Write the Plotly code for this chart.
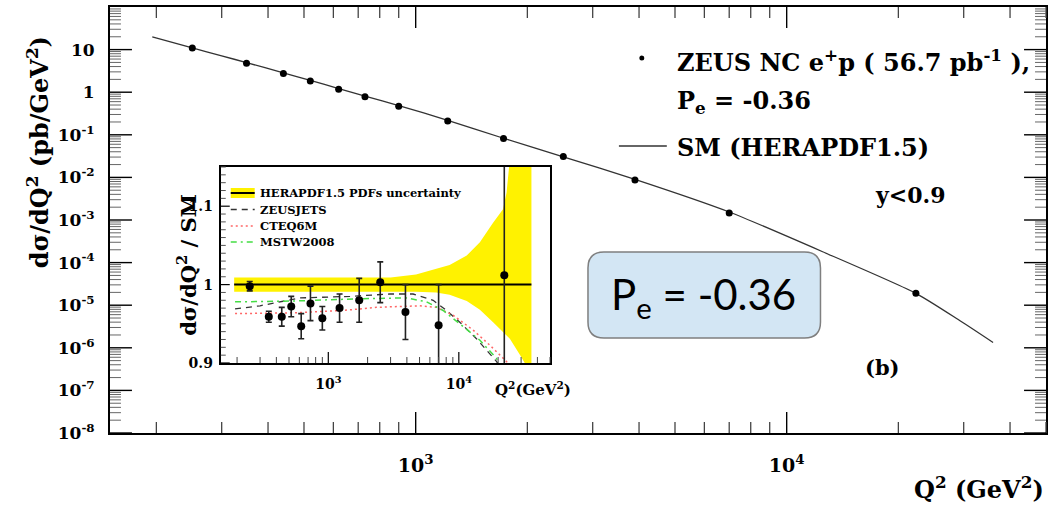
import numpy as np
import plotly.graph_objects as go

# ---------------- data ----------------
q2_data = [250, 350, 440, 520, 620, 730, 900, 1220, 1725, 2500, 3900, 7000, 22300]
xsec_data = [10.96, 4.77, 2.73, 1.84, 1.17, 0.787, 0.465, 0.212, 0.0824, 0.0311, 0.00867, 0.00146, 1.92e-5]

q2_sm = [195, 250, 300, 350, 440, 520, 620, 730, 900, 1220, 1725, 2500, 3900, 7000, 12500, 22300, 29000, 36000]
xsec_sm = [19.9, 11.0, 7.14, 4.95, 2.85, 1.89, 1.22, 0.806, 0.486, 0.219, 0.083, 0.0305, 0.00898, 0.00154,
           1.8e-4, 1.9e-5, 4.6e-6, 1.33e-6]

ratio_data = [0.998, 0.959, 0.959, 0.972, 0.947, 0.976, 0.957, 0.970, 0.980, 1.003, 0.965, 0.948, 1.012]
ratio_err = [0.006, 0.007, 0.012, 0.013, 0.016, 0.022, 0.015, 0.018, 0.028, 0.026, 0.035, 0.052, 0.20]

band_q2 = [190, 1000, 3000, 4700, 6700, 8500, 11500, 14500, 18300, 21800, 23200, 24600, 30000, 36000]
band_hi = [1.009, 1.009, 1.009, 1.013, 1.020, 1.025, 1.037, 1.054, 1.079, 1.096, 1.117, 1.16, 1.25, 1.35]
band_lo = [0.991, 0.991, 0.991, 0.991, 0.990, 0.987, 0.979, 0.968, 0.952, 0.940, 0.936, 0.931, 0.908, 0.885]

zeusjets_q2 = [193, 300, 607, 1464, 2963, 4467, 6356, 8050, 10170, 13650, 19420, 21830]
zeusjets_r = [0.969, 0.973, 0.983, 0.985, 0.988, 0.988, 0.980, 0.967, 0.952, 0.931, 0.902, 0.889]

cteq_q2 = [193, 540, 1300, 2344, 5022, 6740, 9030, 12870, 17210, 23160, 26060]
cteq_r = [0.963, 0.964, 0.967, 0.971, 0.973, 0.971, 0.961, 0.942, 0.923, 0.902, 0.889]

mstw_q2 = [193, 540, 1745, 3970, 5660, 7590, 10170, 14500, 19420, 21200]
mstw_r = [0.978, 0.979, 0.982, 0.983, 0.978, 0.967, 0.950, 0.929, 0.906, 0.889]

x_major = [1e3, 1e4]
x_major_text = ["<b>10<sup>3</sup></b>", "<b>10<sup>4</sup></b>"]
y_major = [10.0 ** k for k in range(-8, 2)]
y_major_text = ["<b>10<sup>-8</sup></b>", "<b>10<sup>-7</sup></b>", "<b>10<sup>-6</sup></b>",
                "<b>10<sup>-5</sup></b>", "<b>10<sup>-4</sup></b>", "<b>10<sup>-3</sup></b>",
                "<b>10<sup>-2</sup></b>", "<b>10<sup>-1</sup></b>", "<b>1</b>", "<b>10</b>"]
inset_y_ticks = [0.9, 1.0, 1.1]
inset_y_text = ["<b>0.9</b>", "<b>1</b>", "<b>1.1</b>"]

# ---------------- layout geometry ----------------
W, H = 1052, 505
L, R, T, B = 110, 4, 7, 72
PW, PH = W - L - R, H - T - B
IX0, IX1, IY0, IY1 = 221, 551, 167, 363          # inset frame (px)
IW, IH = IX1 - IX0, IY1 - IY0


def px(x):
    return (x - L) / PW


def py(y):
    return (H - B - y) / PH


XR = [np.log10(150), np.log10(50000)]
YR = [-8, 2]
IYR = [0.9, 1.15]
x_minor = [m * 10 ** e for e in (2, 3, 4) for m in range(2, 10) if 150 <= m * 10 ** e <= 50000]
y_minor = [m * 10.0 ** e for e in range(-8, 2) for m in range(2, 10)]
inset_y_minor = [round(0.9 + 0.01 * i, 2) for i in range(26) if i % 10 != 0]

SERIF = "DejaVu Serif"
BLACK = "black"

fig = go.Figure()

# main plot
fig.add_trace(go.Scatter(x=q2_sm, y=xsec_sm, mode="lines",
                         line=dict(color="#333333", width=1.3, shape="spline", smoothing=0.6),
                         showlegend=False, xaxis="x", yaxis="y"))
fig.add_trace(go.Scatter(x=q2_data, y=xsec_data, mode="markers", marker=dict(color=BLACK, size=7),
                         showlegend=False, xaxis="x", yaxis="y"))

# inset
fig.add_trace(go.Scatter(x=band_q2, y=band_hi, mode="lines", line=dict(width=0, color="#FFF200"),
                         showlegend=False, xaxis="x2", yaxis="y2"))
fig.add_trace(go.Scatter(x=band_q2, y=band_lo, mode="lines", line=dict(width=0, color="#FFF200"),
                         fill="tonexty", fillcolor="#FFF200", showlegend=False, xaxis="x2", yaxis="y2"))
fig.add_trace(go.Scatter(x=[190, 36000], y=[1.0, 1.0], mode="lines", line=dict(color=BLACK, width=2),
                         showlegend=False, xaxis="x2", yaxis="y2"))
fig.add_trace(go.Scatter(x=zeusjets_q2, y=zeusjets_r, mode="lines",
                         line=dict(color="#333333", width=1.3, dash="6px,5px"),
                         showlegend=False, xaxis="x2", yaxis="y2"))
fig.add_trace(go.Scatter(x=cteq_q2, y=cteq_r, mode="lines",
                         line=dict(color="#FF6666", width=1.5, dash="2px,3px"),
                         showlegend=False, xaxis="x2", yaxis="y2"))
fig.add_trace(go.Scatter(x=mstw_q2, y=mstw_r, mode="lines",
                         line=dict(color="#44DD44", width=1.5, dash="6px,4px,2px,4px"),
                         showlegend=False, xaxis="x2", yaxis="y2"))
fig.add_trace(go.Scatter(x=q2_data, y=ratio_data, mode="markers",
                         marker=dict(color=BLACK, size=8),
                         error_y=dict(type="data", array=ratio_err, color="#222222", thickness=1.6, width=3),
                         showlegend=False, xaxis="x2", yaxis="y2"))

frame = dict(showgrid=False, zeroline=False, showline=True, linecolor=BLACK, linewidth=2, mirror=True,
             ticks="")

fig.update_layout(
    width=W, height=H, margin=dict(l=L, r=R, t=T, b=B),
    paper_bgcolor="white", plot_bgcolor="white", showlegend=False,
    xaxis=dict(type="log", range=XR, tickmode="array", tickvals=x_major, ticktext=x_major_text,
               ticklabelstandoff=14, tickfont=dict(family=SERIF, size=19, color=BLACK), **frame),
    yaxis=dict(type="log", range=YR, tickmode="array", tickvals=y_major, ticktext=y_major_text,
               ticklabelstandoff=10, tickfont=dict(family=SERIF, size=17, color=BLACK), **frame),
    xaxis2=dict(type="log", range=XR, domain=[px(IX0), px(IX1)], anchor="y2", tickmode="array",
                tickvals=x_major, ticktext=x_major_text, ticklabelstandoff=7,
                tickfont=dict(family=SERIF, size=14, color=BLACK), **frame),
    yaxis2=dict(range=IYR, domain=[py(IY1), py(IY0)], anchor="x2", tickmode="array",
                tickvals=inset_y_ticks, ticktext=inset_y_text, ticklabelstandoff=3,
                tickfont=dict(family=SERIF, size=14, color=BLACK), **frame),
)

shapes = []


# ---- tick marks as paper-space lines; positions follow the axis ranges ----
def seg(x0, y0, x1, y1, color, width):
    shapes.append(dict(type="line", xref="paper", yref="paper", x0=x0, y0=y0, x1=x1, y1=y1,
                       line=dict(color=color, width=width)))


def frac_log(v, r):
    return (np.log10(v) - r[0]) / (r[1] - r[0])


def frac_lin(v, r):
    return (v - r[0]) / (r[1] - r[0])


def xticks(vals, length, dom_x, dom_y, height_px, both, color, width):
    d = (dom_y[1] - dom_y[0]) * length / height_px
    for v in vals:
        xx = dom_x[0] + (dom_x[1] - dom_x[0]) * frac_log(v, XR)
        seg(xx, dom_y[0], xx, dom_y[0] + d, color, width)
        if both:
            seg(xx, dom_y[1], xx, dom_y[1] - d, color, width)


def yticks(vals, length, dom_x, dom_y, width_px, both, color, width, fr, rng):
    d = (dom_x[1] - dom_x[0]) * length / width_px
    for v in vals:
        yy = dom_y[0] + (dom_y[1] - dom_y[0]) * fr(v, rng)
        seg(dom_x[0], yy, dom_x[0] + d, yy, color, width)
        if both:
            seg(dom_x[1], yy, dom_x[1] - d, yy, color, width)


MAIN_X, MAIN_Y = [0, 1], [0, 1]
INS_X, INS_Y = [px(IX0), px(IX1)], [py(IY1), py(IY0)]
xticks(x_major, 21, MAIN_X, MAIN_Y, PH, True, BLACK, 1.4)
xticks(x_minor, 11, MAIN_X, MAIN_Y, PH, True, "#444444", 1.3)
yticks(y_major, 22, MAIN_X, MAIN_Y, PW, True, BLACK, 1.4, frac_log, YR)
yticks(y_minor, 11, MAIN_X, MAIN_Y, PW, True, "#666666", 1, frac_log, YR)
xticks(x_major, 11, INS_X, INS_Y, IH, False, BLACK, 1.2)
xticks(x_minor, 6, INS_X, INS_Y, IH, False, "#444444", 1)
yticks(inset_y_ticks, 9, INS_X, INS_Y, IW, False, BLACK, 1.2, frac_lin, IYR)
yticks(inset_y_minor, 5, INS_X, INS_Y, IW, False, "#555555", 1, frac_lin, IYR)

ann = []


def text(x, y, s, size, xanchor="left", yanchor="middle", family=SERIF, bold=True, angle=0, color=BLACK):
    ann.append(dict(x=px(x), y=py(y), xref="paper", yref="paper", text=(f"<b>{s}</b>" if bold else s),
                    showarrow=False, xanchor=xanchor, yanchor=yanchor, textangle=angle,
                    font=dict(family=family, size=size, color=color)))


# main texts
text(38, 152, "dσ/dQ<sup>2</sup> (pb/GeV<sup>2</sup>)", 24, xanchor="center", angle=-90)
text(1048, 488, "Q<sup>2</sup> (GeV<sup>2</sup>)", 24, xanchor="right")
text(676, 61, "ZEUS NC e<sup>+</sup>p ( 56.7 pb<sup>-1</sup> ),", 24)
text(676, 102, "P<sub>e</sub> = -0.36", 24)
text(676, 147, "SM (HERAPDF1.5)", 24)
text(875, 195, "y&lt;0.9", 22)
text(865, 367, "(b)", 21)

# inset texts
text(187, 265, "dσ/dQ<sup>2</sup> / SM", 21, xanchor="center", angle=-90)
text(534, 389, "Q<sup>2</sup>(GeV<sup>2</sup>)", 15, xanchor="center")
leg_rows = [193, 209.5, 226, 242]
leg_labels = ["HERAPDF1.5 PDFs uncertainty", "ZEUSJETS", "CTEQ6M", "MSTW2008"]
for yy, lab in zip(leg_rows, leg_labels):
    text(258, yy, lab, 11.5)

# boxed label
text(705, 297, "P<sub>e</sub> = -0.36", 42, xanchor="center", family="Lato", bold=False)
fig.update_layout(annotations=ann)

# legend samples (main)
shapes.append(dict(type="circle", xref="paper", yref="paper", x0=px(640.5), x1=px(645.5), y0=py(55.5), y1=py(60.5),
                   fillcolor=BLACK, line=dict(width=0)))
shapes.append(dict(type="line", xref="paper", yref="paper", x0=px(620), x1=px(668), y0=py(146), y1=py(146),
                   line=dict(color="#333333", width=1.3)))
# legend samples (inset)
shapes.append(dict(type="rect", xref="paper", yref="paper", x0=px(231), x1=px(255), y0=py(198), y1=py(188),
                   fillcolor="#FFF200", line=dict(width=0)))
shapes.append(dict(type="line", xref="paper", yref="paper", x0=px(231), x1=px(255), y0=py(193), y1=py(193),
                   line=dict(color=BLACK, width=2)))
shapes.append(dict(type="line", xref="paper", yref="paper", x0=px(231), x1=px(255), y0=py(209.5), y1=py(209.5),
                   line=dict(color="#333333", width=1.3, dash="6px,5px")))
shapes.append(dict(type="line", xref="paper", yref="paper", x0=px(231), x1=px(255), y0=py(226), y1=py(226),
                   line=dict(color="#FF6666", width=1.5, dash="2px,3px")))
shapes.append(dict(type="line", xref="paper", yref="paper", x0=px(231), x1=px(255), y0=py(242), y1=py(242),
                   line=dict(color="#44DD44", width=1.5, dash="6px,4px,2px,4px")))

# rounded blue box
bx0, bx1, by0, by1, r = 589, 822, 252, 338, 16


def P(x, y):
    return f"{px(x):.5f},{py(y):.5f}"


path = (f"M {P(bx0 + r, by0)} L {P(bx1 - r, by0)} Q {P(bx1, by0)} {P(bx1, by0 + r)} "
        f"L {P(bx1, by1 - r)} Q {P(bx1, by1)} {P(bx1 - r, by1)} "
        f"L {P(bx0 + r, by1)} Q {P(bx0, by1)} {P(bx0, by1 - r)} "
        f"L {P(bx0, by0 + r)} Q {P(bx0, by0)} {P(bx0 + r, by0)} Z")
shapes.append(dict(type="path", xref="paper", yref="paper", path=path, fillcolor="#D3E6F4",
                   line=dict(color="#7F7F7F", width=1.5), layer="below"))
fig.update_layout(shapes=shapes)

fig.write_html("out.html")
